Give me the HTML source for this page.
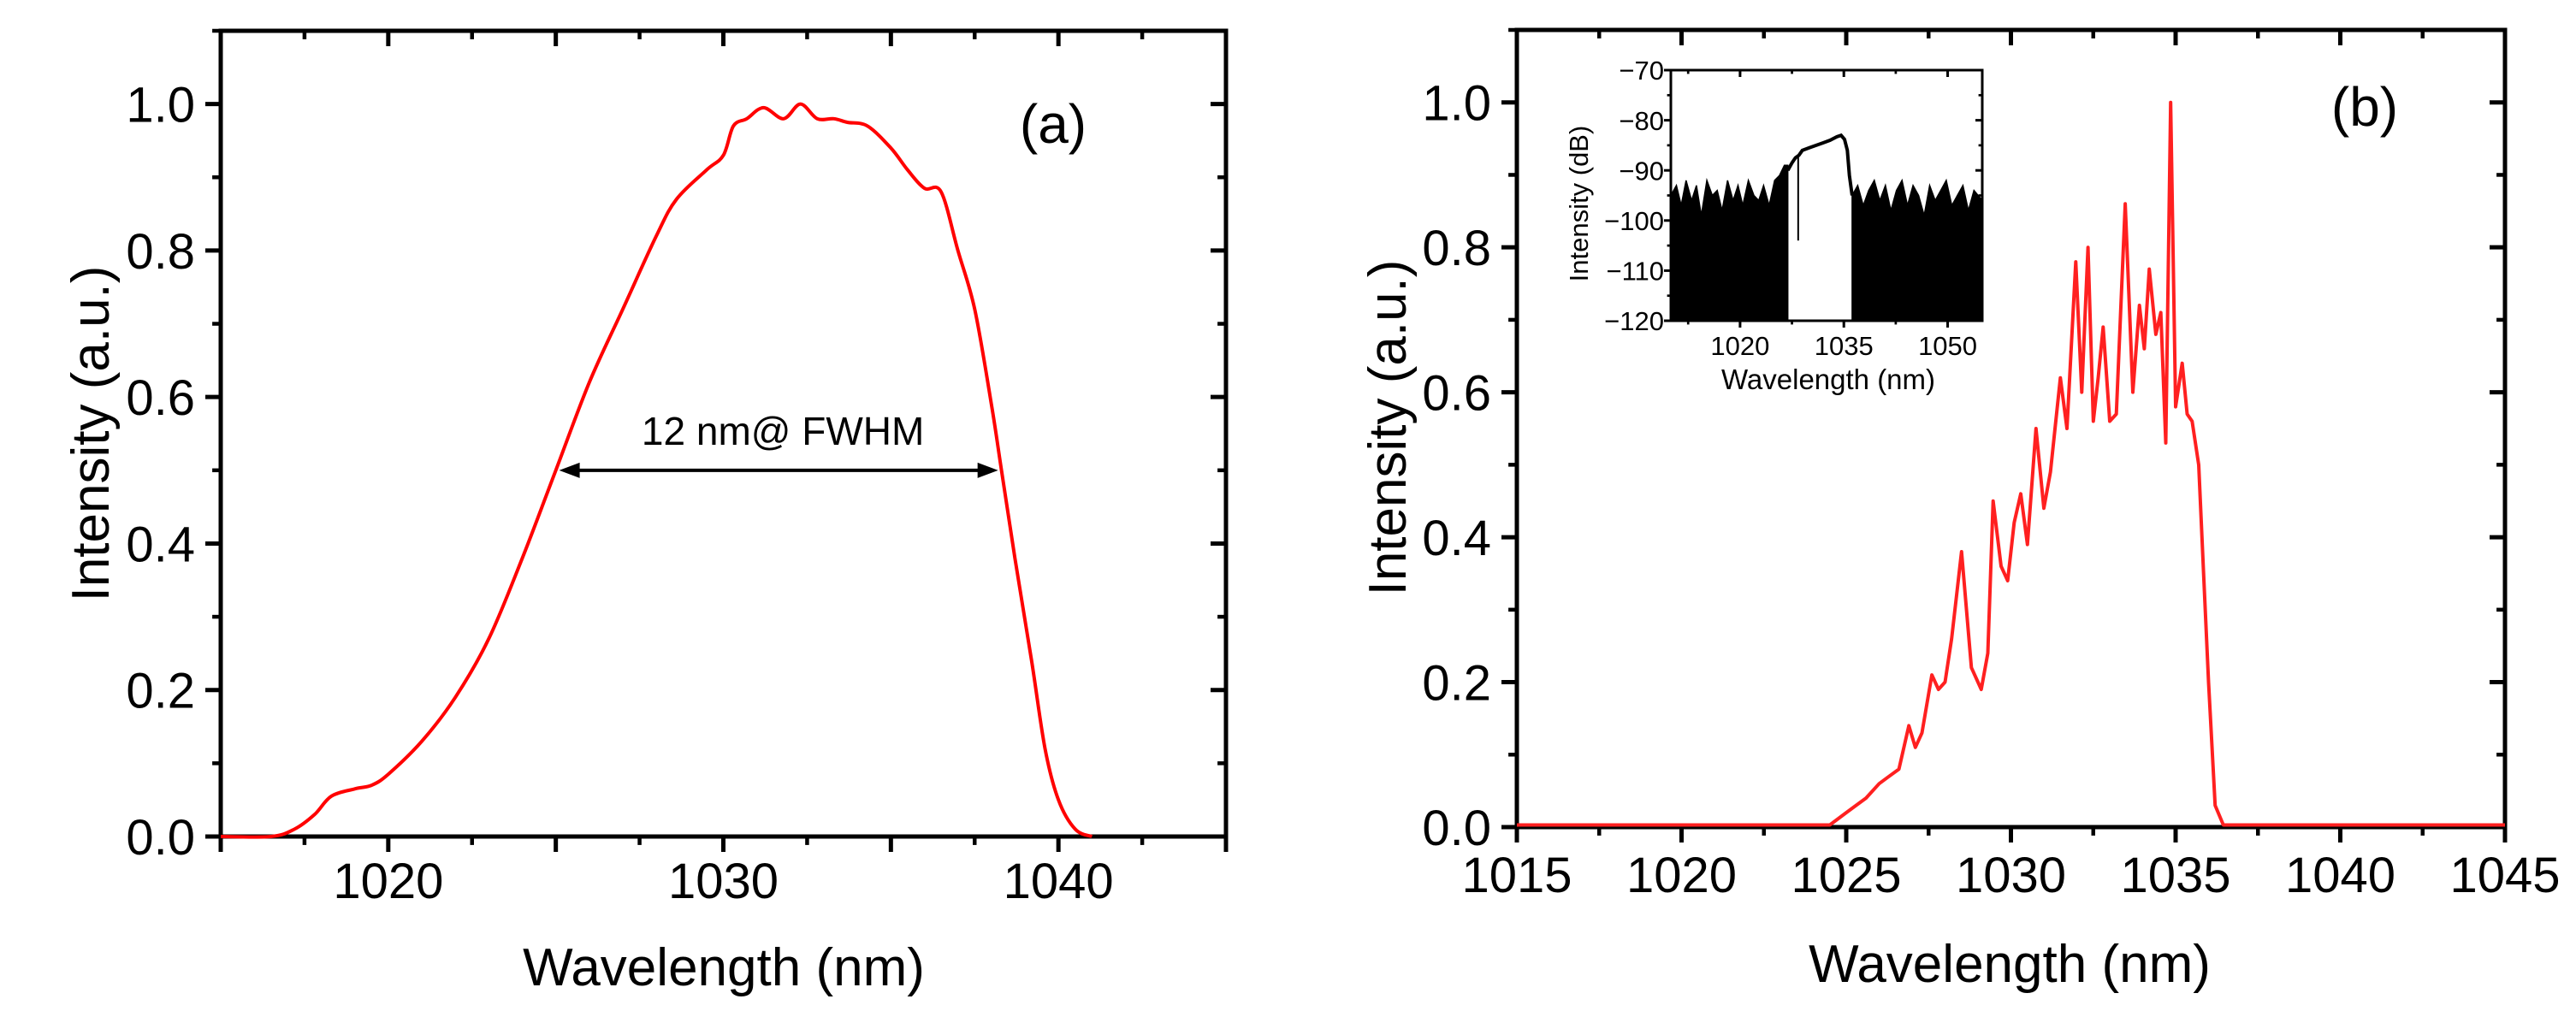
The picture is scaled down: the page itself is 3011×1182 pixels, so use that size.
<!DOCTYPE html>
<html><head><meta charset="utf-8"><style>
html,body{margin:0;padding:0;background:#fff;}
svg{display:block;font-family:"Liberation Sans",Arial,sans-serif;}
</style></head><body>
<svg id="fig" width="3011" height="1182" viewBox="0 0 3011 1182" xmlns="http://www.w3.org/2000/svg">
<rect width="3011" height="1182" fill="#fff"/>
<g id="pa"></g>
<g id="pb"></g>
<g id="pi"></g>
</svg>
<script>
// Panel (a) data
const aWave = [1015,1016.5,1017.2,1017.8,1018.3,1019,1019.5,1020,1021,1022,1023,1024,1025,1026,1027,1028,1028.6,1029.5,1030,1030.3,1030.7,1031.2,1031.8,1032.3,1032.8,1033.3,1033.7,1034.3,1035,1035.5,1036,1036.5,1037,1037.5,1038,1038.3,1038.7,1039.2,1039.6,1040,1040.5,1041];
const aInt = [0,0,0.01,0.03,0.055,0.065,0.07,0.085,0.13,0.19,0.27,0.38,0.5,0.62,0.72,0.82,0.87,0.91,0.93,0.97,0.98,0.995,0.98,1.0,0.98,0.98,0.975,0.97,0.94,0.91,0.885,0.88,0.8,0.72,0.59,0.5,0.38,0.24,0.12,0.05,0.01,0];
const fwhmStart = 1025.1, fwhmEnd = 1038.2, fwhmLevel = 0.5;
const xTicksA = [1020,1030,1040];
const yTicks = [0,0.2,0.4,0.6,0.8,1.0];
// Panel (b) data
const bWave = [1015,1018,1021,1024,1024.5,1025,1025.3,1025.6,1026,1026.3,1026.6,1026.9,1027.1,1027.3,1027.6,1027.8,1028,1028.2,1028.5,1028.8,1029.1,1029.3,1029.46,1029.7,1029.9,1030.1,1030.3,1030.5,1030.76,1031,1031.2,1031.5,1031.7,1031.97,1032.15,1032.34,1032.5,1032.65,1032.8,1033,1033.2,1033.47,1033.7,1033.9,1034.05,1034.2,1034.4,1034.55,1034.7,1034.85,1035.0,1035.2,1035.35,1035.5,1035.7,1035.85,1036.0,1036.2,1036.45,1038,1041,1045];
const bInt = [0.003,0.003,0.003,0.003,0.003,0.02,0.03,0.04,0.06,0.07,0.08,0.14,0.11,0.13,0.21,0.19,0.20,0.26,0.38,0.22,0.19,0.24,0.45,0.36,0.34,0.42,0.46,0.39,0.55,0.44,0.49,0.62,0.55,0.78,0.6,0.80,0.56,0.62,0.69,0.56,0.57,0.86,0.60,0.72,0.66,0.77,0.68,0.71,0.53,1.0,0.58,0.64,0.57,0.56,0.50,0.35,0.2,0.03,0.003,0.003,0.003,0.003];
const xTicksB = [1015,1020,1025,1030,1035,1040,1045];
// Inset data
const noiseLeftWave = [1010,1010.8,1011.5,1012.2,1013,1013.7,1014.4,1015.2,1016,1016.7,1017.4,1018.2,1019,1019.7,1020.4,1021.2,1022,1022.7,1023.4,1024.2,1025,1025.7,1026.4,1026.9];
const noiseLeftDb = [-95,-93,-97,-92,-96,-93,-99,-92,-95,-94,-98,-92,-96,-93,-97,-92,-95,-96,-93,-97,-92,-91,-89,-89];
const noiseRightWave = [1036.2,1037,1037.8,1038.6,1039.4,1040.2,1041,1041.8,1042.6,1043.4,1044.2,1045,1045.8,1046.6,1047.4,1048.2,1049,1049.8,1050.6,1051.4,1052.2,1053,1053.8,1055];
const noiseRightDb = [-95,-93,-97,-94,-92,-96,-93,-98,-94,-92,-97,-93,-95,-99,-93,-96,-94,-92,-97,-95,-93,-98,-94,-96];
const sigWave = [1026.9,1027.5,1028,1028.5,1029,1030,1031,1032,1033,1034,1034.6,1035.1,1035.5,1035.8,1036.2];
const sigDb = [-90,-88.5,-87.5,-87,-86,-85.5,-85,-84.5,-84,-83.3,-83,-83.8,-86,-91,-95];
const xTicksI = [1020,1035,1050];
const yTicksI = [-70,-80,-90,-100,-110,-120];

const NS = "http://www.w3.org/2000/svg";
function mk(parent, tag, attrs, text){
  const e = document.createElementNS(NS, tag);
  for (const k in attrs) e.setAttribute(k, attrs[k]);
  if (text !== undefined) e.textContent = text;
  parent.appendChild(e);
  return e;
}
function scale(d0,d1,r0,r1){ return v => r0 + (v-d0)/(d1-d0)*(r1-r0); }

function frame(g, L, T, R, B, xs, ys, xMajor, xMinor, yMajor, yMinor, xLabels, yLabels, fs, tl, sw, labelOff, yLabelOff){
  for (const v of xMinor){
    const x = xs(v);
    const t1 = mk(g,'line',{x1:x,y1:B,x2:x,y2:B+tl*0.55,stroke:'#000','stroke-width':sw*0.9});
    
    
    const t2 = mk(g,'line',{x1:x,y1:T,x2:x,y2:T+tl*0.55,stroke:'#000','stroke-width':sw*0.9});
    
    
  }
  for (const v of xMajor){
    const x = xs(v);
    const t1 = mk(g,'line',{x1:x,y1:B,x2:x,y2:B+tl,stroke:'#000','stroke-width':sw});
    
    
    const t2 = mk(g,'line',{x1:x,y1:T,x2:x,y2:T+tl,stroke:'#000','stroke-width':sw});
    
    
  }
  for (const v of yMinor){
    const y = ys(v);
    const t1 = mk(g,'line',{x1:L,y1:y,x2:L-tl*0.55,y2:y,stroke:'#000','stroke-width':sw*0.9});
    
    
    const t2 = mk(g,'line',{x1:R,y1:y,x2:R-tl*0.55,y2:y,stroke:'#000','stroke-width':sw*0.9});
    
    
  }
  for (const v of yMajor){
    const y = ys(v);
    const t1 = mk(g,'line',{x1:L,y1:y,x2:L-tl,y2:y,stroke:'#000','stroke-width':sw});
    
    
    const t2 = mk(g,'line',{x1:R,y1:y,x2:R-tl,y2:y,stroke:'#000','stroke-width':sw});
    
    
  }
  const fr = mk(g,'rect',{x:L,y:T,width:R-L,height:B-T,fill:'none',stroke:'#000','stroke-width':sw});
  
  
  for (const l of xLabels){
    const t = mk(g,'text',{x:xs(l.v),y:B+labelOff,'font-size':fs,'text-anchor':'middle'}, l.t);
    
    
  }
  for (const l of yLabels){
    const t = mk(g,'text',{x:L-yLabelOff,y:ys(l.v)+fs*0.36,'font-size':fs,'text-anchor':'end'}, l.t);
    
    
  }
}
function range(a,b,s){ const r=[]; for(let v=a; v<=b+1e-9; v+=s) r.push(Math.round(v*1000)/1000); return r; }
function pathFrom(xs, ys, X, Y){ return X.map((v,i)=>(i?'L':'M')+xs(v).toFixed(1)+','+ys(Y[i]).toFixed(1)).join(' '); }
function smoothPath(xs, ys, X, Y){
  const P = X.map((v,i)=>[xs(v), ys(Y[i])]);
  let d = 'M'+P[0][0].toFixed(1)+','+P[0][1].toFixed(1);
  for (let i=0;i<P.length-1;i++){
    const p0=P[i-1]||P[i], p1=P[i], p2=P[i+1], p3=P[i+2]||P[i+1];
    const c1=[p1[0]+(p2[0]-p0[0])/6, p1[1]+(p2[1]-p0[1])/6];
    const c2=[p2[0]-(p3[0]-p1[0])/6, p2[1]-(p3[1]-p1[1])/6];
    d += ` C${c1[0].toFixed(1)},${c1[1].toFixed(1)} ${c2[0].toFixed(1)},${c2[1].toFixed(1)} ${p2[0].toFixed(1)},${p2[1].toFixed(1)}`;
  }
  return d;
}

// ---- Panel (a)
(function(){
  const g = document.getElementById('pa');
  const L=258,T=36,R=1433,B=978;
  const xs = scale(1015,1045,L,R), ys = scale(0,1.1,B,T);
  const yLab = yTicks.map(v=>({v, t:v.toFixed(1)}));
  frame(g,L,T,R,B,xs,ys,range(1015,1045,5),range(1017.5,1042.5,5),yTicks,range(0.1,1.1,0.2),xTicksA.map(v=>({v,t:String(v)})),yLab,58,18,5,72,30);
  const p = mk(g,'path',{d:smoothPath(xs,ys,aWave,aInt),fill:'none',stroke:'#ff0000','stroke-width':4,'stroke-linejoin':'round'});
  
  
  const y5 = ys(fwhmLevel), x1 = xs(fwhmStart), x2 = xs(fwhmEnd);
  const ar = mk(g,'line',{x1:x1+18,y1:y5,x2:x2-18,y2:y5,stroke:'#000','stroke-width':4});
  
  
  const h1 = mk(g,'path',{d:`M${x1},${y5} L${x1+24},${y5-9} L${x1+24},${y5+9}Z`,fill:'#000'});
  
  
  const h2 = mk(g,'path',{d:`M${x2},${y5} L${x2-24},${y5-9} L${x2-24},${y5+9}Z`,fill:'#000'});
  
  
  const ft = mk(g,'text',{x:(x1+x2)/2+5,y:y5-30,'font-size':46,'text-anchor':'middle'},'12 nm@ FWHM');
  
  
  const lb = mk(g,'text',{x:1231,y:167,'font-size':64,'text-anchor':'middle'},'(a)');
  
  
  const xt = mk(g,'text',{x:846,y:1152,'font-size':62,'text-anchor':'middle'},'Wavelength (nm)');
  
  
  const yt = mk(g,'text',{x:0,y:0,'font-size':62,'text-anchor':'middle',transform:'translate(127,507) rotate(-90)'},'Intensity (a.u.)');
  
  
})();

// ---- Panel (b)
(function(){
  const g = document.getElementById('pb');
  const L=1773,T=35,R=2928,B=967;
  const xs = scale(1015,1045,L,R), ys = scale(0,1.1,B,T);
  const yLab = yTicks.map(v=>({v, t:v.toFixed(1)}));
  frame(g,L,T,R,B,xs,ys,xTicksB,range(1017.5,1042.5,5),yTicks,range(0.1,1.1,0.2),xTicksB.map(v=>({v,t:String(v)})),yLab,58,18,5,76,30);
  const p = mk(g,'path',{d:pathFrom(xs,ys,bWave,bInt),fill:'none',stroke:'#ff2020','stroke-width':4,'stroke-linejoin':'round'});
  
  
  const lb = mk(g,'text',{x:2764,y:147,'font-size':64,'text-anchor':'middle'},'(b)');
  
  
  const xt = mk(g,'text',{x:2349,y:1148,'font-size':62,'text-anchor':'middle'},'Wavelength (nm)');
  
  
  const yt = mk(g,'text',{x:0,y:0,'font-size':62,'text-anchor':'middle',transform:'translate(1643,500) rotate(-90)'},'Intensity (a.u.)');
  
  
})();

// ---- Inset
(function(){
  const g = document.getElementById('pi');
  const L=1953,T=82,R=2317,B=375;
  const xs = scale(1010,1055,L,R), ys = scale(-120,-70,B,T);
  const fillL = mk(g,'path',{d:pathFrom(xs,ys,noiseLeftWave,noiseLeftDb)+` L${xs(noiseLeftWave[noiseLeftWave.length-1])},${B} L${xs(noiseLeftWave[0])},${B}Z`,fill:'#000',stroke:'#000','stroke-width':1.5});
  
  
  const fillR = mk(g,'path',{d:pathFrom(xs,ys,noiseRightWave,noiseRightDb)+` L${xs(noiseRightWave[noiseRightWave.length-1])},${B} L${xs(noiseRightWave[0])},${B}Z`,fill:'#000',stroke:'#000','stroke-width':1.5});
  
  
  const sig = mk(g,'path',{d:pathFrom(xs,ys,sigWave,sigDb),fill:'none',stroke:'#000','stroke-width':4});
  
  
  const dip = mk(g,'line',{x1:xs(1028.4),y1:ys(-87),x2:xs(1028.4),y2:ys(-104),stroke:'#000','stroke-width':2});
  
  
  const yLab = yTicksI.map(v=>({v, t:'\u2212'+Math.abs(v)}));
  frame(g,L,T,R,B,xs,ys,xTicksI,range(1012.5,1052.5,7.5),yTicksI,range(-115,-75,10),xTicksI.map(v=>({v,t:String(v)})),yLab,31,8,3,40,8);
  const xt = mk(g,'text',{x:2137,y:455,'font-size':33,'text-anchor':'middle'},'Wavelength (nm)');
  
  
  const yt = mk(g,'text',{x:0,y:0,'font-size':31,'text-anchor':'middle',transform:'translate(1856,238) rotate(-90)'},'Intensity (dB)');
  
  
})();
</script>
</body></html>
